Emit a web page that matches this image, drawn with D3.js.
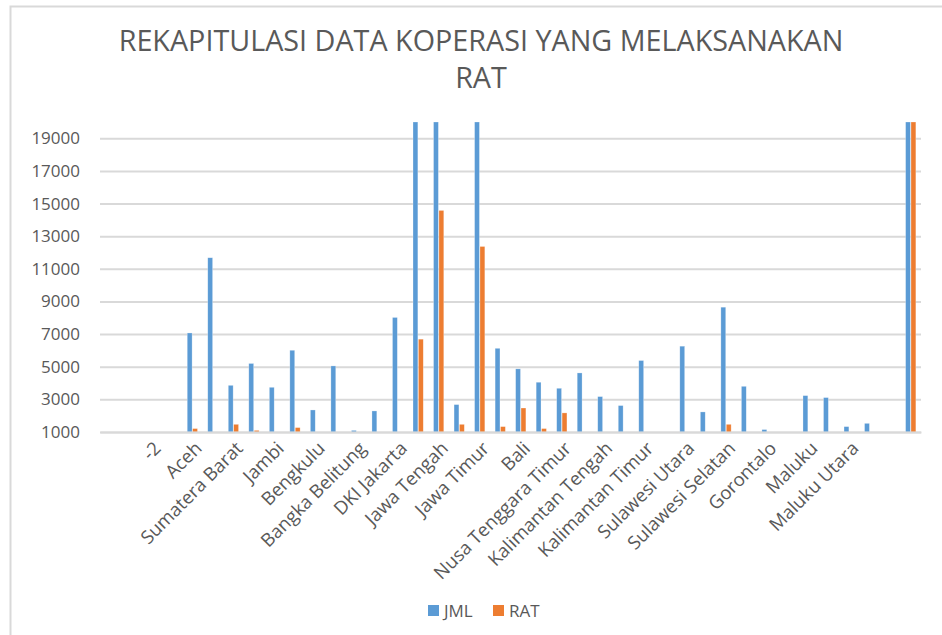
<!DOCTYPE html>
<html>
<head>
<meta charset="utf-8">
<script src="https://cdn.jsdelivr.net/npm/d3@7"></script>
<style>
  html, body { margin: 0; padding: 0; background: #fff; }
  svg { display: block; font-family: "Open Sans", "Noto Sans", sans-serif; }
</style>
</head>
<body>
<svg id="chart" width="942" height="635"></svg>
<script>
// ---- data ----
const categories = [
  "", " -1", "-2", " -3",
  "Aceh", "Sumatera Utara", "Sumatera Barat", "Riau", "Jambi", "Sumatera Selatan",
  "Bengkulu", "Lampung", "Bangka Belitung", "Kepulauan Riau", "DKI Jakarta", "Jawa Barat",
  "Jawa Tengah", "DI Yogyakarta", "Jawa Timur", "Banten", "Bali", "Nusa Tenggara Barat",
  "Nusa Tenggara Timur", "Kalimantan Barat", "Kalimantan Tengah", "Kalimantan Selatan",
  "Kalimantan Timur", "Kalimantan Utara", "Sulawesi Utara", "Sulawesi Tengah",
  "Sulawesi Selatan", "Sulawesi Tenggara", "Gorontalo", "Sulawesi Barat", "Maluku",
  "Papua Barat", "Maluku Utara", "Papua", " ", "JUMLAH"
];
const jml = [
  0, 0, 0, 0,
  7070, 11680, 3860, 5200, 3740, 6010,
  2350, 5050, 1100, 2290, 8020, 25700,
  27250, 2680, 27850, 6130, 4870, 4050,
  3680, 4620, 3170, 2620,
  5380, 600, 6260, 2230,
  8650, 3800, 1150, 900, 3230,
  3110, 1330, 1530, 0, 209000
];
const rat = [
  0, 0, 0, 0,
  1210, 900, 1470, 1100, 800, 1270,
  700, 600, 300, 500, 900, 6690,
  14580, 1470, 12370, 1330, 2470, 1210,
  2170, 800, 700, 500,
  900, 100, 900, 700,
  1470, 800, 200, 300, 700,
  600, 300, 400, 0, 80000
];
const seriesNames = ["JML", "RAT"];
const seriesValues = [jml, rat];
const yTicks = [1000, 3000, 5000, 7000, 9000, 11000, 13000, 15000, 17000, 19000];
const titleLines = ["REKAPITULASI DATA KOPERASI YANG MELAKSANAKAN", "RAT"];

// ---- styles ----
const colors = ["#5B9BD5", "#ED7D31"];
const textColor = "#595959";
const gridColor = "#D9D9D9";

const svg = d3.select("#chart");

// chart frame
svg.append("path")
  .attr("d", "M10.5,640 L10.5,6.5 L950,6.5")
  .attr("fill", "none").attr("stroke", gridColor).attr("stroke-width", 2);

// title
const title = svg.append("g");
titleLines.forEach((t, i) => {
  title.append("text")
    .attr("x", 481).attr("y", 51 + i * 37)
    .attr("text-anchor", "middle")
    .attr("fill", textColor)
    .attr("font-size", 26)
    .text(t);
});
{
  const first = title.select("text").node();
  const w = first.getComputedTextLength();
  const fs = 26 * 725 / w;
  title.selectAll("text").attr("font-size", fs);
}

const plotLeft = 100, plotRight = 921, plotTop = 122, plotBottom = 432;
const idx = categories.map((_, i) => i);

const x = d3.scaleBand().domain(idx).range([plotLeft, plotRight]).paddingInner(0.5).paddingOuter(0.25);
const xs = d3.scaleBand().domain([0, 1]).range([0, x.bandwidth()]).paddingInner(0.1);
const y = d3.scaleLinear().domain([1000, 20000]).range([plotBottom, plotTop]).clamp(true);

// gridlines
const yAxis = d3.axisLeft(y).tickValues(yTicks).tickSize(-(plotRight - plotLeft)).tickPadding(20).tickFormat(d3.format("d"));
const gy = svg.append("g").attr("transform", `translate(${plotLeft},0)`).call(yAxis);
gy.select(".domain").remove();
gy.selectAll(".tick line").attr("stroke", gridColor).attr("stroke-width", 2);
gy.selectAll(".tick text").attr("fill", textColor).attr("font-size", 17)
  .attr("font-family", "'Open Sans', 'Noto Sans', sans-serif");

// bars
const groups = svg.append("g").selectAll("g")
  .data(idx).join("g")
  .attr("transform", i => `translate(${x(i)},0)`);
groups.selectAll("rect")
  .data(i => seriesValues.map((s, k) => ({ k, v: s[i] })).filter(d => d.v > 1000))
  .join("rect")
  .attr("x", d => xs(d.k))
  .attr("width", xs.bandwidth())
  .attr("y", d => y(d.v))
  .attr("height", d => y(1000) - y(d.v))
  .attr("fill", d => colors[d.k])
  .attr("stroke", "#ffffff").attr("stroke-opacity", 0.45).attr("stroke-width", 0.6);

// x axis baseline and labels
const xAxis = d3.axisBottom(x).tickSize(0).tickFormat(i => (i % 2 === 0 ? categories[i] : ""));
const gx = svg.append("g").attr("transform", `translate(0,${plotBottom})`).call(xAxis);
gx.select(".domain").attr("stroke", gridColor).attr("stroke-width", 2);
gx.selectAll(".tick text")
  .attr("fill", textColor).attr("font-size", 18.5)
  .attr("font-family", "'Open Sans', 'Noto Sans', sans-serif")
  .attr("text-anchor", "end")
  .attr("transform", "translate(6,13) rotate(-45)")
  .attr("x", 0).attr("y", 0).attr("dy", "0.35em");

// legend
const legend = svg.append("g");
const legendX = [428, 493];
seriesNames.forEach((n, k) => {
  legend.append("rect").attr("x", legendX[k]).attr("y", 605).attr("width", 11).attr("height", 11).attr("fill", colors[k]);
  legend.append("text").attr("x", legendX[k] + 16).attr("y", 617).attr("fill", textColor).attr("font-size", 17).text(n);
});
</script>
</body>
</html>
